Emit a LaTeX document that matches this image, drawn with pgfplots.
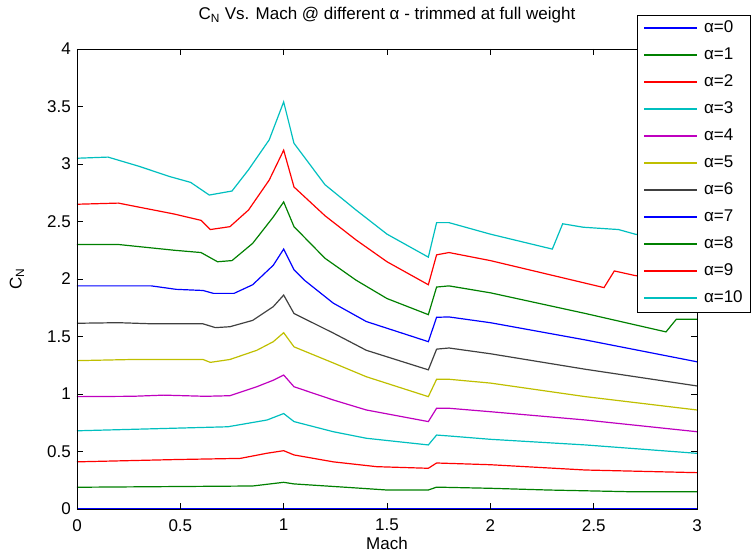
\documentclass[border=0pt]{standalone}
\usepackage{fontspec}
\setmainfont{Liberation Sans}
\usepackage{pgfplots}
\pgfplotsset{compat=1.18}
\definecolor{mb}{rgb}{0,0,1}
\definecolor{mg}{rgb}{0,0.5,0}
\definecolor{mr}{rgb}{1,0,0}
\definecolor{mc}{rgb}{0,0.75,0.75}
\definecolor{mm}{rgb}{0.75,0,0.75}
\definecolor{my}{rgb}{0.75,0.75,0}
\definecolor{mk}{rgb}{0.25,0.25,0.25}
\begin{document}
\begin{tikzpicture}
\begin{axis}[
  name=ax, scale only axis, width=620pt, height=460pt,
  xmin=0, xmax=3, ymin=0, ymax=4,
  axis on top,
  xtick={0,0.5,1,1.5,2,2.5,3},
  ytick={0,0.5,1,1.5,2,2.5,3,3.5,4},
  xticklabels={0,0.5,1,1.5,2,2.5,3},
  yticklabels={0,0.5,1,1.5,2,2.5,3,3.5,4},
  tick align=inside, xtick pos=both, ytick pos=both,
  major tick length=6pt,
  tick style={black, line width=0.6pt},
  axis line style={black, line width=0.8pt},
  every tick label/.append style={font=\fontsize{17}{20}\selectfont},
  xticklabel style={anchor=north, inner sep=0pt, yshift=-10pt},
  yticklabel style={anchor=east, inner sep=0pt, xshift=-6pt},
  title={C\textsubscript{N} Vs. Mach @ different α - trimmed at full weight},
  title style={at={(axis description cs:0.5,1)}, anchor=base, yshift=23pt, inner sep=0pt, font=\fontsize{17}{20}\selectfont},
  xlabel={Mach},
  xlabel style={at={(axis description cs:0.5,0)}, anchor=base, yshift=-41pt, inner sep=0pt, font=\fontsize{17}{20}\selectfont},
  ylabel={C\textsubscript{N}},
  ylabel style={at={(axis description cs:0,0.5)}, anchor=center, rotate=0, yshift=60pt, inner sep=0pt, font=\fontsize{17}{20}\selectfont},
  legend cell align=left,
  legend image code/.code={\draw[#1, line width=2pt] (0pt,0pt) -- (53pt,0pt);},
  legend style={at={(axis description cs:1,1)}, anchor=north west, xshift=-60pt, yshift=34pt,
    draw=black, fill=white, line width=0.8pt, outer sep=0pt,
    inner xsep=6pt, inner ysep=4pt, row sep=8pt, column sep=4pt,
    font=\fontsize{17}{20}\selectfont,
    nodes={inner sep=2pt, text height=12pt, text depth=3pt}},
  every axis plot/.append style={line width=1.2pt},
]
\addplot[color=mb] coordinates {(0,0)(3,0)};
\addlegendentry{α=0}
\addplot[color=mg] coordinates {(0,0.189)(0.85,0.20)(1.0,0.232)(1.05,0.218)(1.3,0.189)(1.5,0.165)(1.7,0.165)(1.74,0.19)(2.0,0.18)(2.28,0.165)(2.68,0.15)(3.0,0.15)};
\addlegendentry{α=1}
\addplot[color=mr] coordinates {(0,0.41)(0.48,0.43)(0.79,0.44)(0.92,0.485)(1.0,0.507)(1.05,0.47)(1.24,0.41)(1.45,0.368)(1.7,0.354)(1.74,0.40)(2.0,0.385)(2.46,0.339)(3.0,0.316)};
\addlegendentry{α=2}
\addplot[color=mc] coordinates {(0,0.68)(0.42,0.70)(0.73,0.715)(0.92,0.774)(1.0,0.83)(1.05,0.76)(1.24,0.672)(1.4,0.615)(1.7,0.557)(1.74,0.643)(1.8,0.635)(2.0,0.606)(2.46,0.557)(3.0,0.484)};
\addlegendentry{α=3}
\addplot[color=mm] coordinates {(0,0.977)(0.27,0.98)(0.42,0.99)(0.62,0.98)(0.74,0.985)(0.87,1.063)(0.95,1.12)(1.0,1.165)(1.05,1.063)(1.24,0.948)(1.4,0.861)(1.7,0.76)(1.74,0.876)(1.8,0.876)(2.0,0.846)(2.46,0.774)(3.0,0.672)};
\addlegendentry{α=4}
\addplot[color=my] coordinates {(0,1.29)(0.27,1.30)(0.61,1.30)(0.645,1.275)(0.74,1.30)(0.87,1.38)(0.95,1.455)(1.0,1.533)(1.05,1.41)(1.24,1.27)(1.4,1.15)(1.7,0.977)(1.74,1.128)(1.8,1.128)(2.0,1.095)(2.46,0.977)(3.0,0.861)};
\addlegendentry{α=5}
\addplot[color=mk] coordinates {(0,1.615)(0.2,1.62)(0.37,1.61)(0.61,1.61)(0.67,1.577)(0.74,1.585)(0.85,1.64)(0.95,1.76)(1.0,1.86)(1.05,1.70)(1.24,1.53)(1.4,1.38)(1.7,1.21)(1.74,1.39)(1.8,1.40)(2.0,1.35)(2.46,1.215)(3.0,1.07)};
\addlegendentry{α=6}
\addplot[color=mb] coordinates {(0,1.94)(0.36,1.94)(0.48,1.91)(0.61,1.90)(0.66,1.875)(0.76,1.875)(0.85,1.95)(0.95,2.12)(1.0,2.26)(1.05,2.08)(1.1,1.99)(1.24,1.79)(1.4,1.63)(1.7,1.455)(1.74,1.667)(1.8,1.67)(2.0,1.62)(2.46,1.47)(3.0,1.28)};
\addlegendentry{α=7}
\addplot[color=mg] coordinates {(0,2.30)(0.2,2.30)(0.47,2.25)(0.6,2.23)(0.68,2.15)(0.75,2.16)(0.85,2.31)(0.95,2.54)(1.0,2.67)(1.05,2.455)(1.2,2.18)(1.35,1.99)(1.5,1.83)(1.7,1.69)(1.74,1.93)(1.8,1.94)(2.0,1.88)(2.46,1.70)(2.85,1.54)(2.9,1.65)(3.0,1.65)};
\addlegendentry{α=8}
\addplot[color=mr] coordinates {(0,2.65)(0.2,2.66)(0.47,2.565)(0.6,2.51)(0.645,2.43)(0.74,2.455)(0.83,2.6)(0.93,2.86)(1.0,3.12)(1.05,2.80)(1.2,2.55)(1.35,2.34)(1.5,2.15)(1.7,1.95)(1.74,2.21)(1.8,2.23)(2.0,2.16)(2.55,1.925)(2.6,2.07)(2.7,2.03)(3.0,1.97)};
\addlegendentry{α=9}
\addplot[color=mc] coordinates {(0,3.05)(0.15,3.06)(0.3,2.98)(0.45,2.89)(0.55,2.84)(0.64,2.73)(0.75,2.765)(0.83,2.95)(0.93,3.21)(1.0,3.54)(1.05,3.18)(1.2,2.82)(1.35,2.60)(1.5,2.39)(1.7,2.19)(1.74,2.49)(1.8,2.49)(2.0,2.39)(2.3,2.26)(2.35,2.48)(2.45,2.45)(2.62,2.43)(2.7,2.39)(3.0,2.30)};
\addlegendentry{α=10}
\end{axis}
\pgfresetboundingbox
\path ([shift={(-77pt,-49pt)}]ax.south west) rectangle ([shift={(59pt,49pt)}]ax.north east);
\end{tikzpicture}
\end{document}
